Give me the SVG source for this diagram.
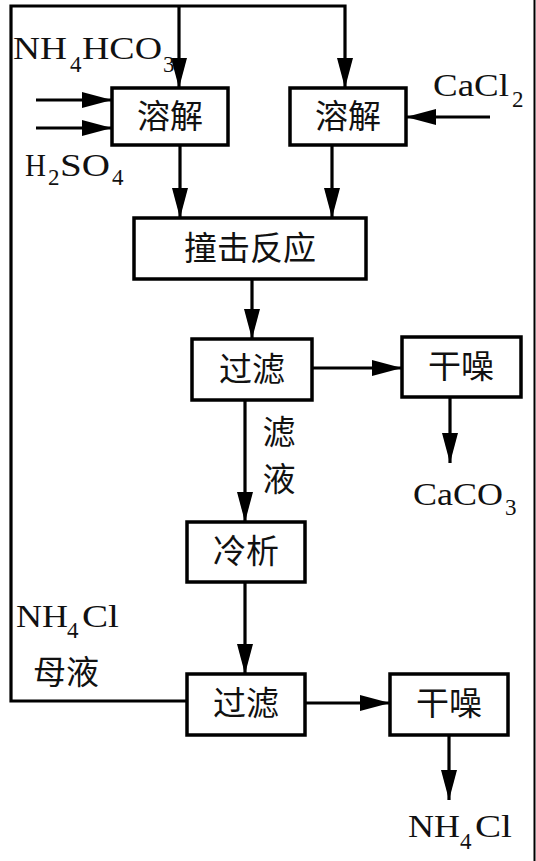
<svg xmlns="http://www.w3.org/2000/svg" width="536" height="861" viewBox="0 0 536 861">
<style>
.box{fill:#fff;stroke:#000;stroke-width:3.5}
.ln{fill:none;stroke:#000;stroke-width:3.2}
.zh{font-family:"Noto Sans CJK SC","Noto Sans",sans-serif;font-size:33px;fill:#111;text-anchor:middle}
.ch{font-family:"Liberation Serif","Times New Roman",serif;font-size:31px;fill:#111}
.sub{font-family:"Liberation Serif","Times New Roman",serif;font-size:23px;fill:#111}
</style>
<defs>
<marker id="ah" markerUnits="userSpaceOnUse" markerWidth="32" markerHeight="18" refX="30" refY="8.5" orient="auto">
<path d="M0,0.5 L30,8.5 L0,16.5 Z" fill="#000"/>
</marker>
</defs>
<rect x="0" y="0" width="536" height="861" fill="#fff"/>
<line x1="534.5" y1="0" x2="534.5" y2="861" stroke="#000" stroke-width="2"/>
<g id="connectors">
<path class="ln" d="M187,701 H11 V6 H345 V88" marker-end="url(#ah)"/>
<path class="ln" d="M179,6 V88" marker-end="url(#ah)"/>
<path class="ln" d="M36,100 H112" marker-end="url(#ah)"/>
<path class="ln" d="M36,128 H112" marker-end="url(#ah)"/>
<path class="ln" d="M490,117 H406" marker-end="url(#ah)"/>
<path class="ln" d="M180,145 V218" marker-end="url(#ah)"/>
<path class="ln" d="M332,145 V218" marker-end="url(#ah)"/>
<path class="ln" d="M252,279 V339" marker-end="url(#ah)"/>
<path class="ln" d="M312,368 H402" marker-end="url(#ah)"/>
<path class="ln" d="M450,397 V463" marker-end="url(#ah)"/>
<path class="ln" d="M245,400 V522" marker-end="url(#ah)"/>
<path class="ln" d="M245,582 V674" marker-end="url(#ah)"/>
<path class="ln" d="M305,703 H390" marker-end="url(#ah)"/>
<path class="ln" d="M449,735 V800" marker-end="url(#ah)"/>
</g>
<g id="dissolve1"><rect class="box" x="112" y="88" width="116" height="57"/><text class="zh" x="170" y="128">溶解</text></g>
<g id="dissolve2"><rect class="box" x="290" y="88" width="116" height="57"/><text class="zh" x="348" y="128">溶解</text></g>
<g id="impact"><rect class="box" x="134" y="218" width="232" height="61"/><text class="zh" x="250" y="260">撞击反应</text></g>
<g id="filter1"><rect class="box" x="192" y="339" width="120" height="61"/><text class="zh" x="252" y="381">过滤</text></g>
<g id="dry1"><rect class="box" x="402" y="337" width="119" height="60"/><text class="zh" x="461" y="378">干噪</text></g>
<g id="cool"><rect class="box" x="187" y="522" width="118" height="60"/><text class="zh" x="246" y="563">冷析</text></g>
<g id="filter2"><rect class="box" x="187" y="674" width="118" height="61"/><text class="zh" x="246" y="715">过滤</text></g>
<g id="dry2"><rect class="box" x="390" y="674" width="118" height="61"/><text class="zh" x="449" y="715">干噪</text></g>
<g id="labels">
<text class="ch" x="13" y="59" textLength="54" lengthAdjust="spacingAndGlyphs">NH</text>
<text class="sub" x="70" y="72">4</text>
<text class="ch" x="82" y="59" textLength="80" lengthAdjust="spacingAndGlyphs">HCO</text>
<text class="sub" x="163" y="72">3</text>
<text class="ch" x="25" y="176" textLength="21" lengthAdjust="spacingAndGlyphs">H</text>
<text class="sub" x="48" y="185">2</text>
<text class="ch" x="60" y="176" textLength="50" lengthAdjust="spacingAndGlyphs">SO</text>
<text class="sub" x="112" y="185">4</text>
<text class="ch" x="433" y="96" textLength="76" lengthAdjust="spacingAndGlyphs">CaCl</text>
<text class="sub" x="512" y="107">2</text>
<text class="zh" x="279" y="444">滤</text>
<text class="zh" x="279" y="491">液</text>
<text class="ch" x="413" y="505" textLength="90" lengthAdjust="spacingAndGlyphs">CaCO</text>
<text class="sub" x="505" y="515">3</text>
<text class="ch" x="16" y="627" textLength="52" lengthAdjust="spacingAndGlyphs">NH</text>
<text class="sub" x="67" y="638">4</text>
<text class="ch" x="82" y="627" textLength="37" lengthAdjust="spacingAndGlyphs">Cl</text>
<text class="zh" x="66" y="684">母液</text>
<text class="ch" x="408" y="837" textLength="52" lengthAdjust="spacingAndGlyphs">NH</text>
<text class="sub" x="460" y="849">4</text>
<text class="ch" x="475" y="837" textLength="37" lengthAdjust="spacingAndGlyphs">Cl</text>
</g>
</svg>
